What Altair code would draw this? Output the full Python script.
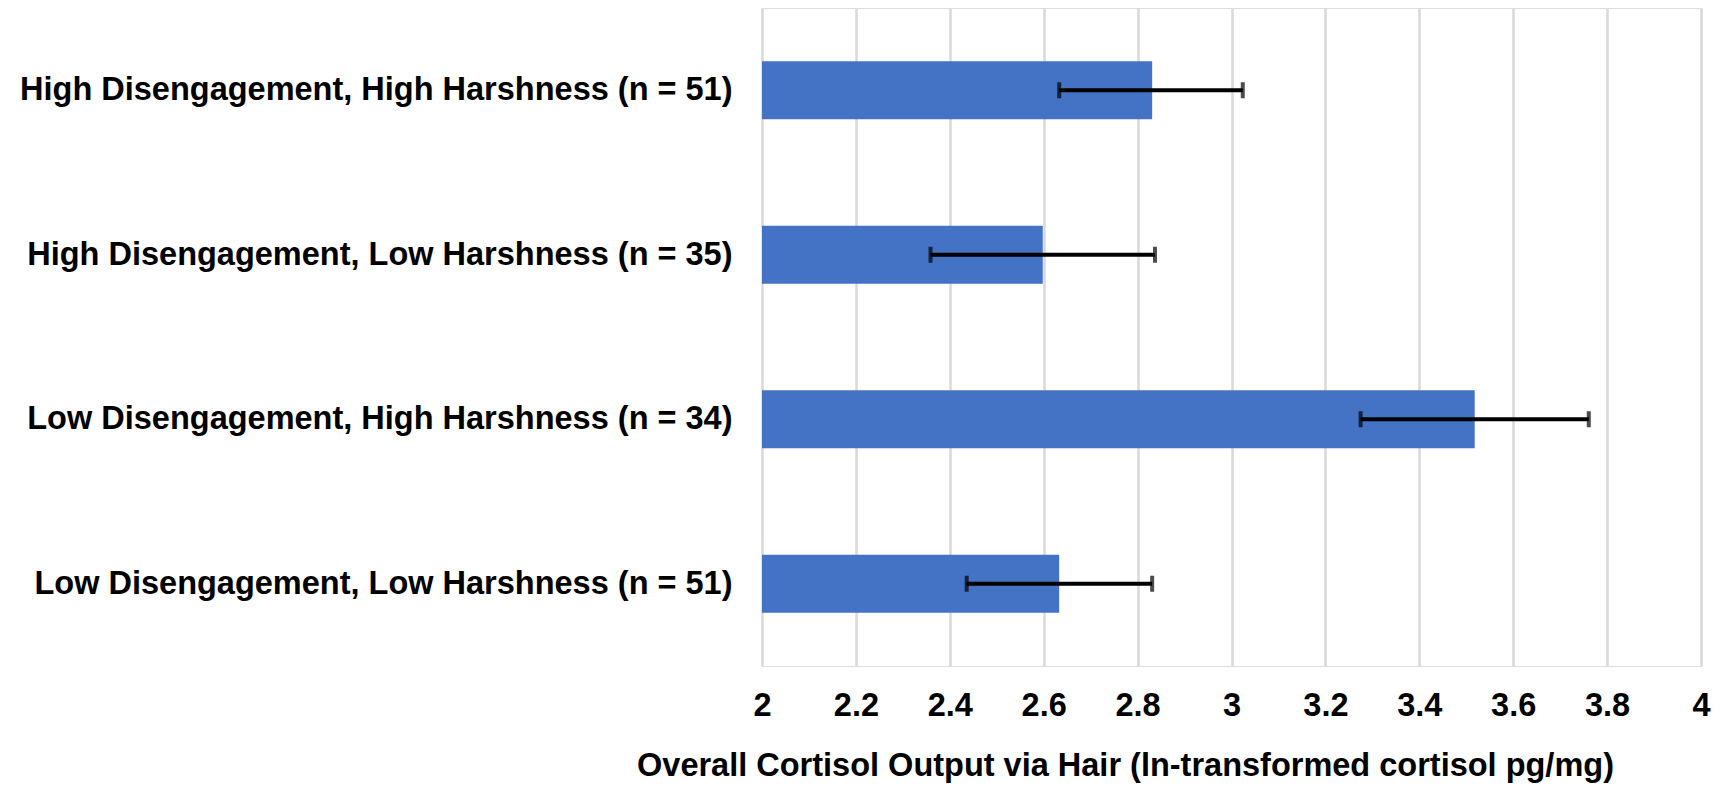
import altair as alt
import pandas as pd

categories = [
    "High Disengagement, High Harshness (n = 51)",
    "High Disengagement, Low Harshness (n = 35)",
    "Low Disengagement, High Harshness (n = 34)",
    "Low Disengagement, Low Harshness (n = 51)",
]
means = [2.831, 2.598, 3.518, 2.633]
lower = [2.633, 2.359, 3.275, 2.436]
upper = [3.024, 2.837, 3.761, 2.831]
x_ticks = [2, 2.2, 2.4, 2.6, 2.8, 3, 3.2, 3.4, 3.6, 3.8, 4]

df = pd.DataFrame({"group": categories, "mean": means, "lo": lower, "hi": upper})

FONT = "Liberation Sans, Arial, Helvetica, sans-serif"
FS = 32.5
TITLE = "Overall Cortisol Output via Hair (ln-transformed cortisol pg/mg)"

xscale = alt.Scale(domain=[2, 4], zero=False, nice=False)
yscale = alt.Scale(paddingInner=0.647, paddingOuter=0.3235)

y_enc = alt.Y(
    "group:N",
    sort=categories,
    scale=yscale,
    axis=alt.Axis(
        title=None,
        labelFont=FONT,
        labelFontSize=FS,
        labelFontWeight="bold",
        labelColor="black",
        labelLimit=2000,
        labelPadding=30,
        ticks=False,
        tickSize=0,
        domain=False,
        grid=False,
    ),
)

x_axis = alt.Axis(
    values=x_ticks,
    format="~g",
    title=TITLE,
    titleFont=FONT,
    titleFontSize=FS,
    titleFontWeight="bold",
    titleColor="black",
    titleX=363,
    titleY=109,
    titleAlign="center",
    titleBaseline="alphabetic",
    labelFont=FONT,
    labelFontSize=FS,
    labelFontWeight="bold",
    labelColor="black",
    labelBaseline="alphabetic",
    labelPadding=49,
    labelFlush=False,
    labelOverlap=False,
    ticks=False,
    tickSize=0,
    domain=False,
    grid=True,
    gridColor="#d9d9d9",
    gridWidth=2.5,
)

base = alt.Chart(df)

bars = base.mark_bar(color="#4472C4").encode(
    x=alt.X("mean:Q", scale=xscale, axis=x_axis),
    x2=alt.datum(2),
    y=y_enc,
)

err = base.mark_rule(color="black", strokeWidth=4).encode(
    x=alt.X("lo:Q", scale=xscale),
    x2="hi:Q",
    y=alt.Y("group:N", sort=categories, scale=yscale),
)

cap_lo = base.mark_tick(color="black", thickness=4, size=16).encode(
    x=alt.X("lo:Q", scale=xscale),
    y=alt.Y("group:N", sort=categories, scale=yscale),
)
cap_hi = base.mark_tick(color="black", thickness=4, size=16).encode(
    x=alt.X("hi:Q", scale=xscale),
    y=alt.Y("group:N", sort=categories, scale=yscale),
)

chart = (
    alt.layer(bars, err, cap_lo, cap_hi)
    .properties(
        width=939,
        height=658,
        autosize=alt.AutoSizeParams(type="none"),
        padding={"left": 754, "top": 0, "right": 16, "bottom": 118},
    )
    .configure_view(stroke=None)
    .configure(background="white")
)

chart.save("out.html", embed_options={"renderer": "svg", "actions": False})
